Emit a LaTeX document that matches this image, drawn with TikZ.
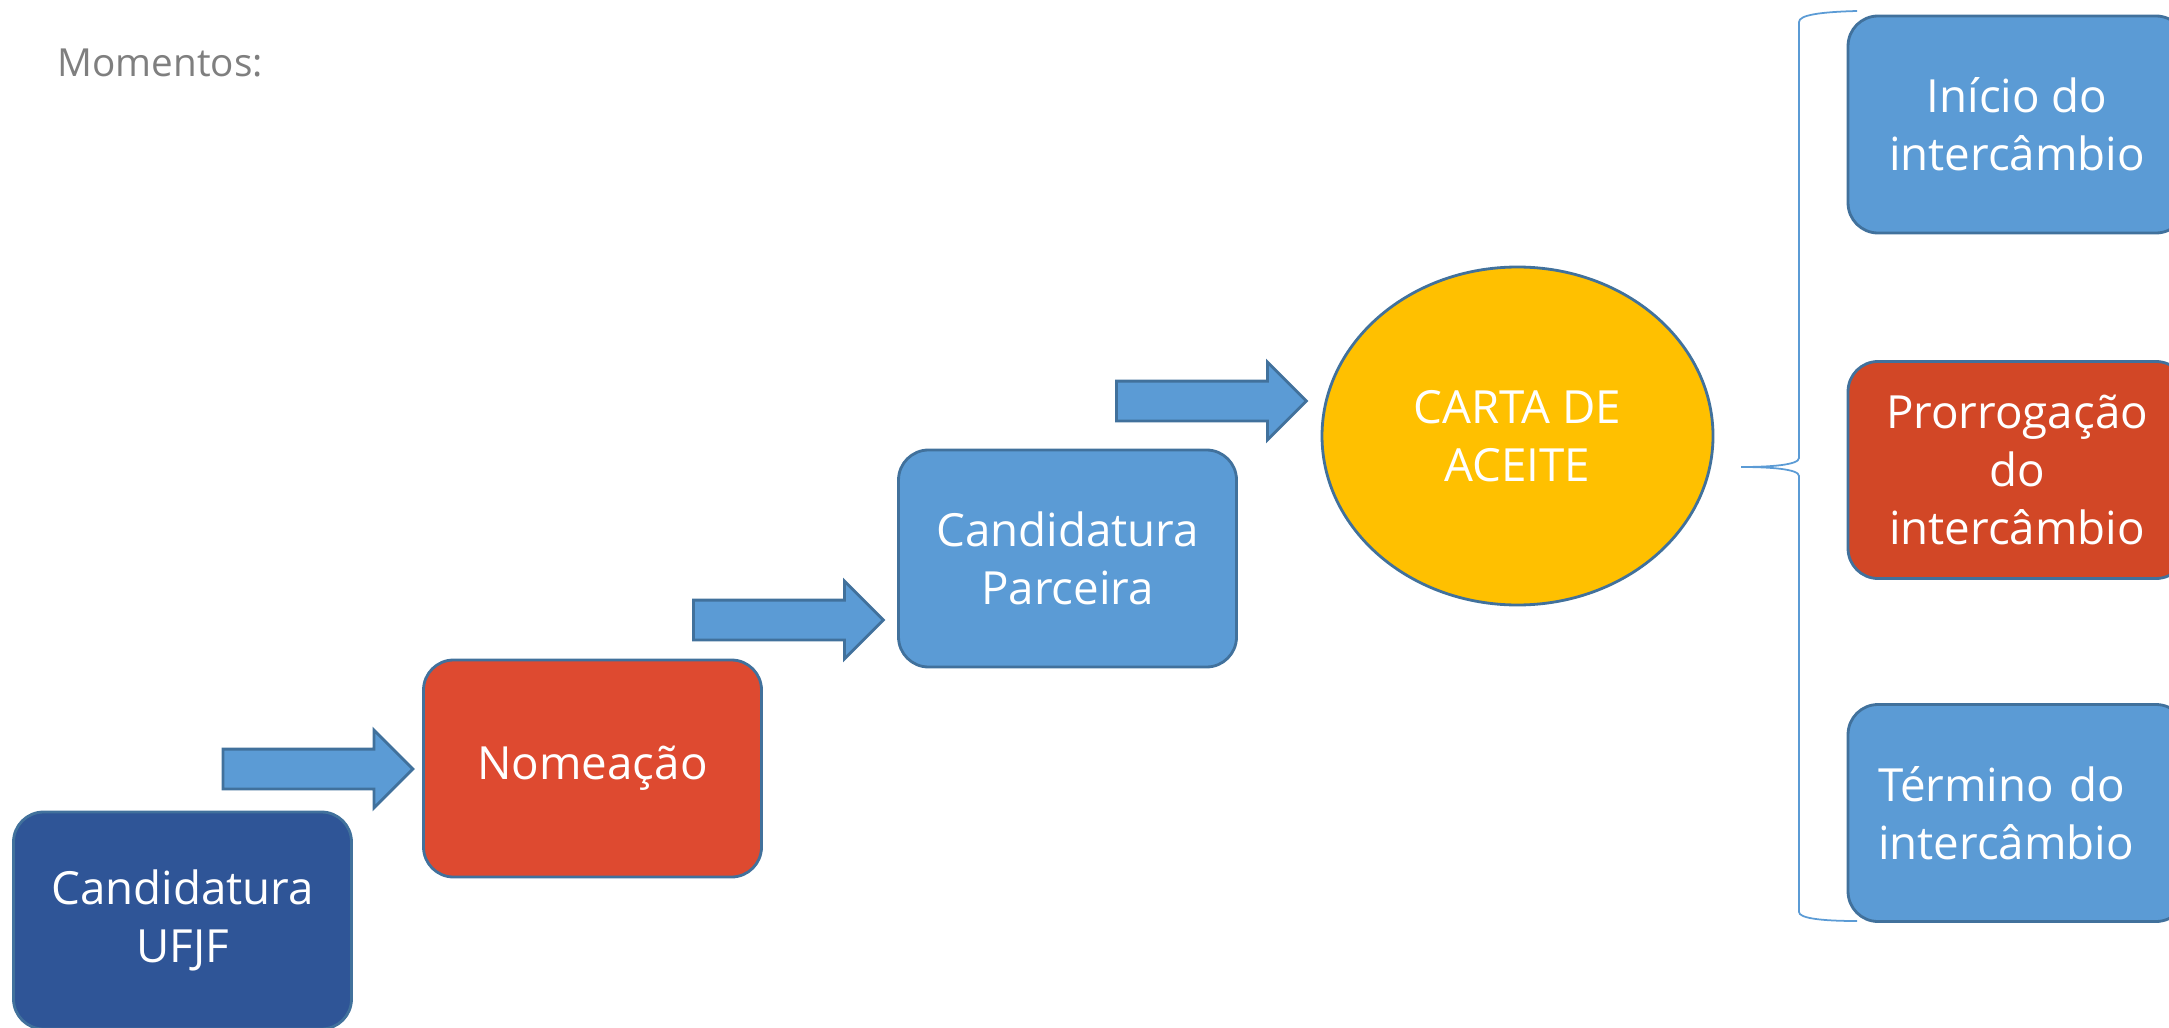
\documentclass[tikz,border=0pt]{standalone}
\usepackage{fontspec}
\setmainfont{Open Sans}
\usetikzlibrary{shapes.geometric,shapes.arrows}
\definecolor{borda}{HTML}{41719C}
\definecolor{azul}{HTML}{5B9BD5}
\definecolor{azulesc}{HTML}{2F5597}
\definecolor{verm}{HTML}{DE4A30}
\definecolor{laranja}{HTML}{D24726}
\definecolor{amarelo}{HTML}{FFC000}
\definecolor{cinza}{HTML}{7F7F7F}
\newcommand{\fonte}{\fontsize{13}{16.5}\selectfont}
\begin{document}
\begin{tikzpicture}
		\tikzset{caixa/.style={draw=borda,line width=0.8pt,rounded corners=3mm,minimum width=3.38cm,minimum height=2.17cm,text=white,align=center,font=\fonte},
			seta/.style={single arrow,draw=borda,line width=0.8pt,fill=azul,minimum height=1.9cm,single arrow head extend=0.19cm,inner xsep=0pt,inner ysep=0.185cm},
			chave/.style={draw=azul,line width=0.5pt}}
		\useasboundingbox (0,0) rectangle (21.69,10.27);
		\node[anchor=base west,inner sep=0pt,text=cinza,font=\fontsize{11}{14}\selectfont] (mom) at (0.57,9.50) {Momentos:};

		\node[caixa,fill=azulesc] (ufjf) at (1.825,1.065) {Candidatura\\UFJF};
		\node[caixa,fill=verm] (nom) [right of=ufjf,xshift=31mm,yshift=15.2mm] {Nomeação};
		\node[caixa,fill=azul] (parc) [right of=nom,xshift=37.5mm,yshift=21mm] {Candidatura\\Parceira};
		\node[ellipse,draw=borda,line width=0.8pt,fill=amarelo,minimum width=3.91cm,minimum height=3.38cm,inner sep=0pt,text=white,align=center,font=\fonte] (carta) [right of=parc,xshift=35mm,yshift=12.25mm] {CARTA DE\\ACEITE};

		\node[caixa,fill=azul] (ini) at (20.17,9.025) {Início do\\intercâmbio};
		\node[caixa,fill=laranja] (pro) [below of=ini,yshift=-24.55mm] {Prorrogação\\do\\intercâmbio};
		\node[caixa,fill=azul,text width=2.78cm,align=left,inner xsep=3mm] (ter) [below of=pro,yshift=-24.3mm] {Término do\\intercâmbio};

		\node[seta] (s1) at (3.08,2.58) {};
		\node[seta] (s2) at (7.785,4.07) {};
		\node[seta] (s3) at (12.015,6.26) {};

		% chave
		\coordinate (ct) at (18.57,10.16);
		\coordinate (cp) at (17.41,5.60);
		\coordinate (cb) at (18.57,1.06);
		\draw[chave] (ct) .. controls (18.2,10.15) and (17.99,10.12) .. (17.99,10.05) -- (17.99,5.69)
			.. controls (17.99,5.62) and (17.7,5.60) .. (cp)
			.. controls (17.7,5.60) and (17.99,5.58) .. (17.99,5.51) -- (17.99,1.15)
			.. controls (17.99,1.09) and (18.2,1.06) .. (cb);
\end{tikzpicture}
\end{document}
